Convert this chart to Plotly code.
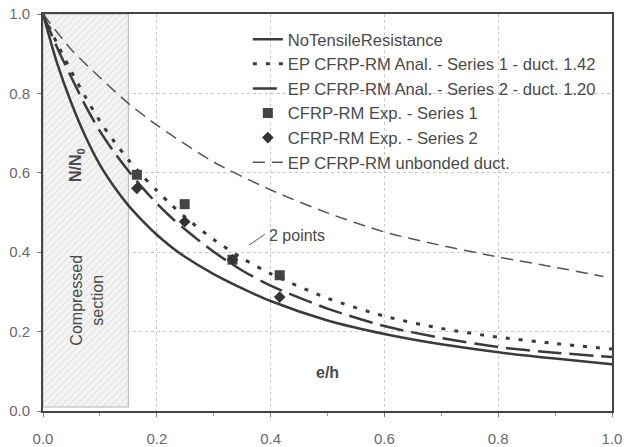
import plotly.graph_objects as go

# ---- data ----
x_grid = [0.0, 0.025, 0.05, 0.075, 0.1, 0.125, 0.15, 0.175, 0.2, 0.225, 0.25, 0.3, 0.35, 0.4, 0.5, 0.6, 0.7, 0.8, 0.9, 1.0]
no_tensile = [1.0, 0.875, 0.775, 0.69, 0.62, 0.565, 0.518, 0.479, 0.444, 0.414, 0.388, 0.345, 0.309, 0.277, 0.228, 0.194, 0.168, 0.148, 0.132, 0.118]
anal_s1 = [1.0, 0.925, 0.855, 0.79, 0.73, 0.679, 0.633, 0.592, 0.555, 0.52, 0.488, 0.432, 0.385, 0.346, 0.284, 0.239, 0.208, 0.186, 0.17, 0.156]
anal_s2 = [1.0, 0.915, 0.84, 0.768, 0.705, 0.652, 0.605, 0.562, 0.523, 0.488, 0.457, 0.401, 0.354, 0.316, 0.258, 0.214, 0.184, 0.161, 0.147, 0.136]
unb_x = [0.0, 0.05, 0.1, 0.15, 0.2, 0.25, 0.3, 0.4, 0.5, 0.6, 0.7, 0.8, 0.9, 0.985]
unbonded = [1.0, 0.91, 0.84, 0.775, 0.72, 0.672, 0.627, 0.557, 0.499, 0.451, 0.417, 0.388, 0.362, 0.339]

exp_x = [0.165, 0.249, 0.333, 0.416]
exp_s1 = [0.595, 0.521, 0.381, 0.342]
exp_s2 = [0.561, 0.477, 0.381, 0.287]

shade_x = [0.0, 0.15, 0.15, 0.0, 0.0]
shade_y = [0.01, 0.01, 1.0, 1.0, 0.01]

FONT = "Liberation Sans, Arial, sans-serif"
TXT = "#4a4a4a"
LINE = "#3a3a3a"

fig = go.Figure()

# compressed-section shaded area
fig.add_trace(go.Scatter(
    x=shade_x, y=shade_y, mode="lines", fill="toself",
    fillcolor="#f1f1f1",
    fillpattern=dict(shape="/", fgcolor="#d2d2d2", bgcolor="#f4f4f4", size=5, solidity=0.25),
    line=dict(color="#b5b5b5", width=1), showlegend=False, hoverinfo="skip"))

fig.add_trace(go.Scatter(
    x=x_grid, y=no_tensile, mode="lines", name="NoTensileResistance",
    line=dict(color=LINE, width=2.5, shape="spline", smoothing=0.8), legendgroup="a"))
fig.add_trace(go.Scatter(
    x=x_grid, y=anal_s1, mode="lines", name="EP CFRP-RM Anal. - Series 1 - duct. 1.42",
    line=dict(color=LINE, width=3, dash="4px,9px", shape="spline", smoothing=0.8), legendgroup="b"))
fig.add_trace(go.Scatter(
    x=x_grid, y=anal_s2, mode="lines", name="EP CFRP-RM Anal. - Series 2 - duct. 1.20",
    line=dict(color=LINE, width=2.5, dash="24px,8px", shape="spline", smoothing=0.8), legendgroup="c"))
fig.add_trace(go.Scatter(
    x=exp_x, y=exp_s1, mode="markers", name="CFRP-RM Exp. - Series 1",
    marker=dict(symbol="square", size=10, color="#444444"), legendgroup="d"))
fig.add_trace(go.Scatter(
    x=exp_x, y=exp_s2, mode="markers", name="CFRP-RM Exp. - Series 2",
    marker=dict(symbol="diamond", size=9, color="#333333"), legendgroup="e"))
fig.add_trace(go.Scatter(
    x=unb_x, y=unbonded, mode="lines", name="EP CFRP-RM unbonded duct.",
    line=dict(color="#555555", width=1.5, dash="12px,7px", shape="spline", smoothing=0.8), legendgroup="f"))

# annotations
fig.add_annotation(x=0.06, y=0.62, text="<b>N/N<sub>0</sub></b>", showarrow=False,
                   textangle=-90, font=dict(family=FONT, size=16, color=TXT))
fig.add_annotation(x=0.077, y=0.28, text="Compressed<br>section", showarrow=False,
                   textangle=-90, font=dict(family=FONT, size=16, color=TXT))
fig.add_annotation(x=0.50, y=0.097, text="<b>e/h</b>", showarrow=False,
                   font=dict(family=FONT, size=16, color=TXT))
fig.add_annotation(x=0.393, y=0.443, text="2 points", showarrow=False, xanchor="left",
                   font=dict(family=FONT, size=16, color=TXT))
fig.add_shape(type="line", x0=0.362, y0=0.418, x1=0.39, y1=0.445,
              line=dict(color="#555555", width=1))

axis_common = dict(
    showline=True, linecolor="#444444", linewidth=2, mirror=True,
    showgrid=True, gridcolor="#c8c8c8", griddash="dot", gridwidth=1,
    ticks="outside", ticklen=4, tickcolor="#777777",
    tickfont=dict(family=FONT, size=15, color="#6a6a6a"),
    zeroline=False, tickformat=".1f", automargin=False,
)
fig.update_xaxes(range=[0, 1.0], dtick=0.2, ticklabelstandoff=9, **axis_common,
                 minor=dict(dtick=0.1, ticks="outside", ticklen=3, tickcolor="#999999", showgrid=False))
fig.update_yaxes(range=[0, 1.0], dtick=0.2, ticklabelstandoff=4, **axis_common)

fig.update_layout(
    width=627, height=447,
    margin=dict(l=43, r=15, t=14, b=36),
    paper_bgcolor="white", plot_bgcolor="white",
    font=dict(family=FONT, size=16, color=TXT),
    legend=dict(x=0.36, y=0.98, xanchor="left", yanchor="top",
                bgcolor="rgba(255,255,255,0)", borderwidth=0,
                font=dict(family=FONT, size=16.6, color=TXT),
                tracegroupgap=0, itemwidth=30),
    showlegend=True,
)

fig.write_html("out.html", config={"displayModeBar": False},
               post_script="document.body.style.margin='0';document.body.style.overflow='hidden';")
